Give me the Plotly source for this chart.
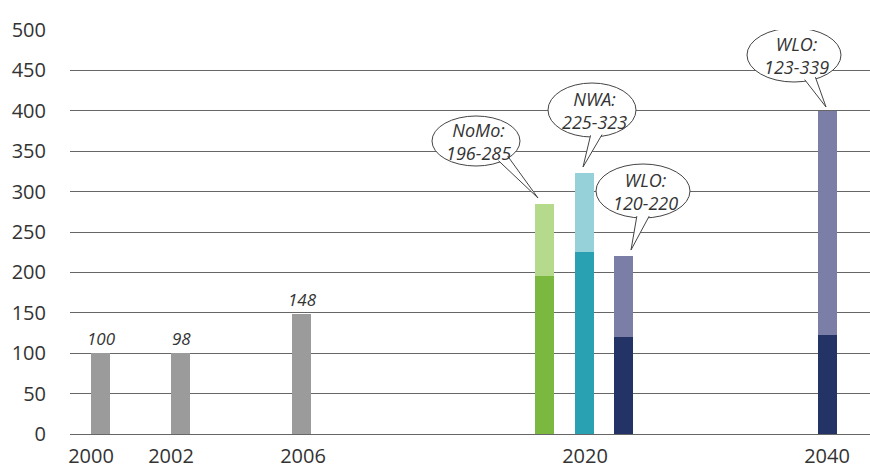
import math
import plotly.graph_objects as go

# ---------------- data ----------------
hist_years = ["2000", "2002", "2006"]
hist_values = [100, 100, 148]          # drawn heights
hist_labels = ["100", "98", "148"]

scen_names = ["NoMo", "NWA", "WLO", "WLO"]
scen_years = ["2020", "2020", "2020", "2040"]
scen_low = [196, 225, 120, 123]
scen_high = [285, 323, 220, 400]       # drawn top of the bars
scen_text = ["196-285", "225-323", "120-220", "123-339"]

tick_labels = ["2000", "2002", "2006", "2020", "2040"]

# ---------------- layout constants ----------------
hist_pos = [100, 180, 301]
scen_pos = [544, 584, 623, 827]
tick_pos = [91, 171, 303, 585, 827]
bar_w = 19

hist_color = "#9b9b9b"
low_colors = ["#7ab840", "#2aa1b2", "#243366", "#243366"]
high_colors = ["#b6da8b", "#96d0d8", "#7b7fa8", "#7b7fa8"]

FONT = "Open Sans"
TXT = "#333333"
GRID = "#666666"

PLOT_TOP, PLOT_BOT = 30, 434
def py2y(py):
    return (PLOT_BOT - py) * 500.0 / (PLOT_BOT - PLOT_TOP)

fig = go.Figure()
fig.add_trace(go.Bar(x=hist_pos, y=hist_values, width=bar_w,
                     marker=dict(color=hist_color, line=dict(width=0)),
                     showlegend=False, hoverinfo="skip"))
fig.add_trace(go.Bar(x=scen_pos, y=scen_low, width=bar_w,
                     marker=dict(color=low_colors, line=dict(width=0)),
                     showlegend=False, hoverinfo="skip"))
fig.add_trace(go.Bar(x=scen_pos, y=[h - l for h, l in zip(scen_high, scen_low)],
                     base=scen_low, width=bar_w,
                     marker=dict(color=high_colors, line=dict(width=0)),
                     showlegend=False, hoverinfo="skip"))

# value labels for historic bars
for xp, v, lab in zip(hist_pos, hist_values, hist_labels):
    fig.add_annotation(x=xp + 1, y=v, text=lab, showarrow=False, yanchor="bottom",
                       yshift=1, font=dict(family=FONT, size=17, color=TXT, style="italic"))

# speech bubbles: (center px x, center px y, rx, ry, tip px, base angles)
bubbles = [
    (476, 141, 44, 25, (538, 198), (57, 40)),
    (592, 110, 44, 27, (583, 167), (92, 76)),
    (643, 191, 47, 27, (631, 250), (98, 82)),
    (794, 55, 47, 27, (826, 107), (76, 61)),
]
shapes = []
for (cx, cy, rx, ry, tip, angs), name, txt in zip(bubbles, scen_names, scen_text):
    shapes.append(dict(type="circle", xref="x", yref="y",
                       x0=cx - rx, x1=cx + rx, y0=py2y(cy + ry), y1=py2y(cy - ry),
                       line=dict(color="#444444", width=1), fillcolor="white", layer="above"))
    pts = []
    for a in angs:
        t = math.radians(a)
        pts.append((cx + 0.94 * rx * math.cos(t), cy + 0.94 * ry * math.sin(t)))
    path = "M {:.2f},{:.3f} L {:.2f},{:.3f} L {:.2f},{:.3f}".format(
        pts[0][0], py2y(pts[0][1]), tip[0], py2y(tip[1]), pts[1][0], py2y(pts[1][1]))
    shapes.append(dict(type="path", xref="x", yref="y", path=path,
                       line=dict(color="#444444", width=1), fillcolor="white", layer="above"))
    fig.add_annotation(x=cx + 2, y=py2y(cy), text=name + ":<br>" + txt, showarrow=False,
                       align="center", xanchor="center", yanchor="middle",
                       font=dict(family=FONT, size=18, color=TXT, style="italic"))

fig.update_layout(
    width=870, height=471,
    margin=dict(l=70, r=0, t=PLOT_TOP, b=471 - PLOT_BOT),
    paper_bgcolor="white", plot_bgcolor="white",
    barmode="overlay", bargap=0,
    shapes=shapes,
    xaxis=dict(range=[70, 870], tickmode="array", tickvals=tick_pos, ticktext=tick_labels,
               showgrid=False, zeroline=False, showline=False, automargin=False,
               ticks="outside", ticklen=4, tickcolor="rgba(0,0,0,0)",
               tickfont=dict(family=FONT, size=20, color=TXT), fixedrange=True),
    yaxis=dict(range=[0, 500], tickmode="linear", tick0=0, dtick=50,
               showgrid=True, gridcolor=GRID, gridwidth=1,
               zeroline=True, zerolinecolor=GRID, zerolinewidth=1,
               showline=False, automargin=False,
               ticks="outside", ticklen=19, tickcolor="rgba(0,0,0,0)",
               tickfont=dict(family=FONT, size=20, color=TXT), fixedrange=True),
)

fig.write_html("out.html")
